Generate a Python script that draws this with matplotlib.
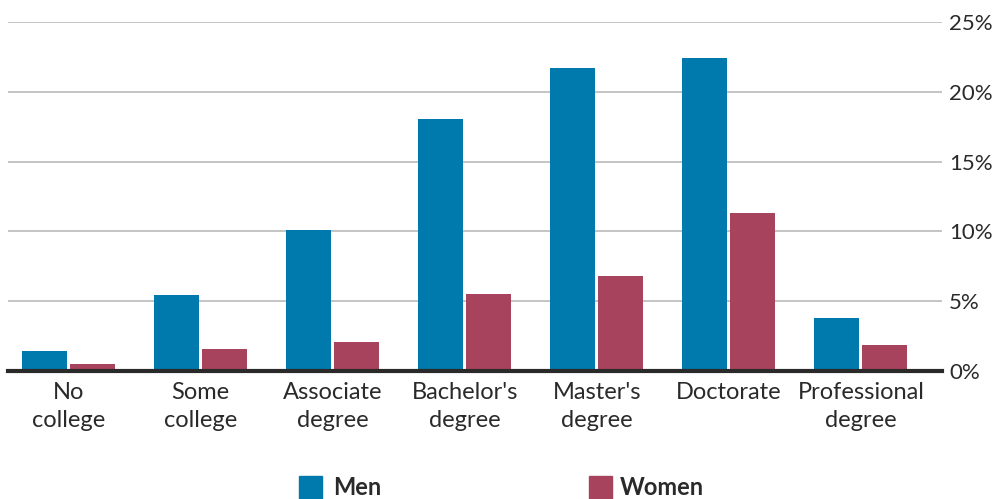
import matplotlib
matplotlib.use("Agg")
import matplotlib.pyplot as plt
from matplotlib.patches import Rectangle
import numpy as np

categories = ["No\ncollege", "Some\ncollege", "Associate\ndegree", "Bachelor's\ndegree",
              "Master's\ndegree", "Doctorate", "Professional\ndegree"]
men = [1.4, 5.45, 10.1, 18.05, 21.7, 22.4, 3.8]
women = [0.5, 1.55, 2.1, 5.5, 6.8, 11.3, 1.85]
yticks = [0, 5, 10, 15, 20, 25]
ytick_labels = ["0%", "5%", "10%", "15%", "20%", "25%"]
series_names = ["Men", "Women"]

BLUE = "#0079AC"
RED = "#A8435D"
TEXT = "#2a2a2a"

plt.rcParams['font.family'] = ['Lato', 'DejaVu Sans']

fig = plt.figure(figsize=(10.01, 4.99), dpi=100)
ax = fig.add_axes([8/1001, 1-371/499, (942-8)/1001, (371-22)/499])

x = np.arange(len(categories))
w = 0.341
ax.bar(x - 0.182, men, width=w, color=BLUE, zorder=3)
ax.bar(x + 0.182, women, width=w, color=RED, zorder=3)

ax.set_xlim(-0.458, 6.614)
ax.set_ylim(0, 25)
ax.set_yticks(yticks)
ax.set_yticklabels(ytick_labels)
ax.yaxis.tick_right()
ax.tick_params(axis='y', length=0, pad=5, labelsize=16, labelcolor=TEXT)
ax.grid(axis='y', color='#c4c4c4', linewidth=1.4, zorder=1)
ax.set_xticks(x)
ax.set_xticklabels(categories, linespacing=1.42)
ax.tick_params(axis='x', length=0, pad=8, labelsize=17, labelcolor=TEXT)
for s in ["top", "right", "left"]:
    ax.spines[s].set_visible(False)
ax.spines["bottom"].set_color("#2a2a2a")
ax.spines["bottom"].set_linewidth(3)
ax.spines["bottom"].set_zorder(4)

# legend
W, H = 1001, 499
for xs, name, col, tx in [(299, series_names[0], BLUE, 333), (589, series_names[1], RED, 620)]:
    fig.patches.append(Rectangle((xs/W, 1-499/H), 23/W, 23/H, transform=fig.transFigure,
                                 color=col, clip_on=False))
    fig.text(tx/W, 1-487.5/H, name, fontsize=17, fontweight='bold', color=TEXT,
             va='center', ha='left')

fig.savefig("out.png", dpi=100)
